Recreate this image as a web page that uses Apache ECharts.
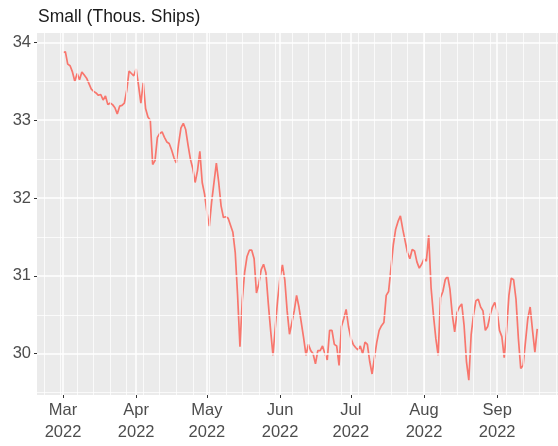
<!DOCTYPE html>
<html><head><meta charset="utf-8">
<script src="https://cdn.jsdelivr.net/npm/echarts@6/dist/echarts.min.js"></script>
<style>html,body{margin:0;padding:0;background:#fff}#c{width:558px;height:446px}</style>
</head><body><div id="c"></div>
<script>
// ---- data ----
const titleText = 'Small (Thous. Ships)';
const startDate = '2022-03-01'; // daily series starts here
const values = [
  // Mar
  33.87,33.88,33.72,33.70,33.62,33.50,33.60,33.52,33.62,33.58,33.54,33.47,33.40,33.37,33.35,33.32,33.33,33.26,33.31,33.20,33.22,33.20,33.16,33.08,33.18,33.19,33.22,33.38,33.63,33.60,33.57,
  // Apr
  33.66,33.45,33.22,33.48,33.15,33.04,33.00,32.43,32.48,32.78,32.83,32.85,32.78,32.72,32.70,32.62,32.52,32.45,32.70,32.90,32.96,32.88,32.68,32.50,32.38,32.20,32.35,32.60,32.20,32.05,
  // May
  31.82,31.64,31.95,32.20,32.45,32.20,31.90,31.75,31.76,31.74,31.65,31.56,31.30,30.75,30.09,30.70,31.05,31.25,31.33,31.33,31.22,30.78,30.90,31.08,31.15,31.04,30.65,30.30,29.98,30.35,30.70,
  // Jun
  30.98,31.14,30.95,30.55,30.25,30.40,30.55,30.75,30.60,30.40,30.20,29.98,30.12,30.04,30.00,29.87,30.04,30.04,30.10,30.00,29.92,30.30,30.30,30.12,30.10,29.85,30.35,30.45,30.57,30.35,
  // Jul
  30.20,30.12,30.08,30.05,30.10,30.00,30.15,30.12,29.90,29.74,29.95,30.15,30.30,30.36,30.40,30.75,30.80,31.10,31.40,31.60,31.70,31.77,31.60,31.45,31.30,31.22,31.34,31.32,31.18,31.10,31.15,
  // Aug
  31.22,31.19,31.52,30.85,30.50,30.20,29.98,30.72,30.80,30.95,31.00,30.83,30.50,30.28,30.53,30.60,30.64,30.36,29.90,29.66,30.25,30.50,30.68,30.70,30.60,30.55,30.30,30.35,30.49,30.60,30.66,
  // Sep
  30.55,30.30,30.22,29.95,30.30,30.75,30.97,30.95,30.70,30.20,29.81,29.85,30.15,30.45,30.60,30.30,30.02,30.32
];
const monthTicks = ['2022-03-01','2022-04-01','2022-05-01','2022-06-01','2022-07-01','2022-08-01','2022-09-01'];
const monthLabels = ['Mar\n2022','Apr\n2022','May\n2022','Jun\n2022','Jul\n2022','Aug\n2022','Sep\n2022'];
const firstMonday = '2022-02-21';
const yTicks = [30,31,32,33,34];
const yMinorTicks = [29.5,30.5,31.5,32.5,33.5];

// ---- build ----
const DAY = 86400000;
const ts = s => Date.parse(s + 'T00:00:00Z');
const t0 = ts(startDate);
const data = values.map((v, i) => [t0 + i * DAY, v]);
const monthTs = monthTicks.map(ts);
const xMin = t0 - 11.02 * DAY, xMax = t0 + 209.8 * DAY;
const weekTs = [];
for (let t = ts(firstMonday); t <= xMax; t += 7 * DAY) weekTs.push(t);

const grid = [];
weekTs.forEach(t => grid.push({xAxis: t, lineStyle: {width: 0.75}}));
yMinorTicks.forEach(v => grid.push({yAxis: v, lineStyle: {width: 0.75}}));
monthTs.forEach(t => grid.push({xAxis: t, lineStyle: {width: 1.5}}));
yTicks.forEach(v => grid.push({yAxis: v, lineStyle: {width: 1.5}}));

const labelStyle = {color: '#4D4D4D', fontSize: 16.5, fontFamily: 'Liberation Sans, Arial, sans-serif'};
const chart = echarts.init(document.getElementById('c'), null, {renderer: 'canvas'});
chart.setOption({
  animation: false,
  title: {text: titleText, left: 33, top: 3,
    textStyle: {color: '#1A1A1A', fontSize: 17.5, fontWeight: 'normal', fontFamily: 'Liberation Sans, Arial, sans-serif'}},
  grid: {left: 37, right: 0, top: 33, bottom: 51, show: true, backgroundColor: '#EBEBEB', borderWidth: 0},
  xAxis: {
    type: 'value', min: xMin, max: xMax,
    axisLine: {show: false},
    splitLine: {show: false},
    axisTick: {show: true, customValues: monthTs, length: 3, lineStyle: {color: '#333333', width: 1}},
    axisLabel: Object.assign({customValues: monthTs, margin: 4, lineHeight: 22,
      formatter: v => monthLabels[monthTs.indexOf(v)] || ''}, labelStyle)
  },
  yAxis: {
    type: 'value', min: 29.47, max: 34.12,
    axisLine: {show: false},
    splitLine: {show: false},
    axisTick: {show: true, customValues: yTicks, length: 3, lineStyle: {color: '#333333', width: 1}},
    axisLabel: Object.assign({customValues: yTicks, margin: 6}, labelStyle)
  },
  series: [
    {type: 'line', z: 1, silent: true, data: [data[0]], showSymbol: false, symbol: 'none',
     lineStyle: {opacity: 0},
     markLine: {silent: true, symbol: 'none', label: {show: false}, animation: false,
       lineStyle: {color: '#FFFFFF', type: 'solid'}, data: grid}},
    {type: 'line', z: 3, data: data, showSymbol: false, symbol: 'none',
     lineStyle: {color: '#F8766D', width: 1.7}}
  ]
});
</script></body></html>
